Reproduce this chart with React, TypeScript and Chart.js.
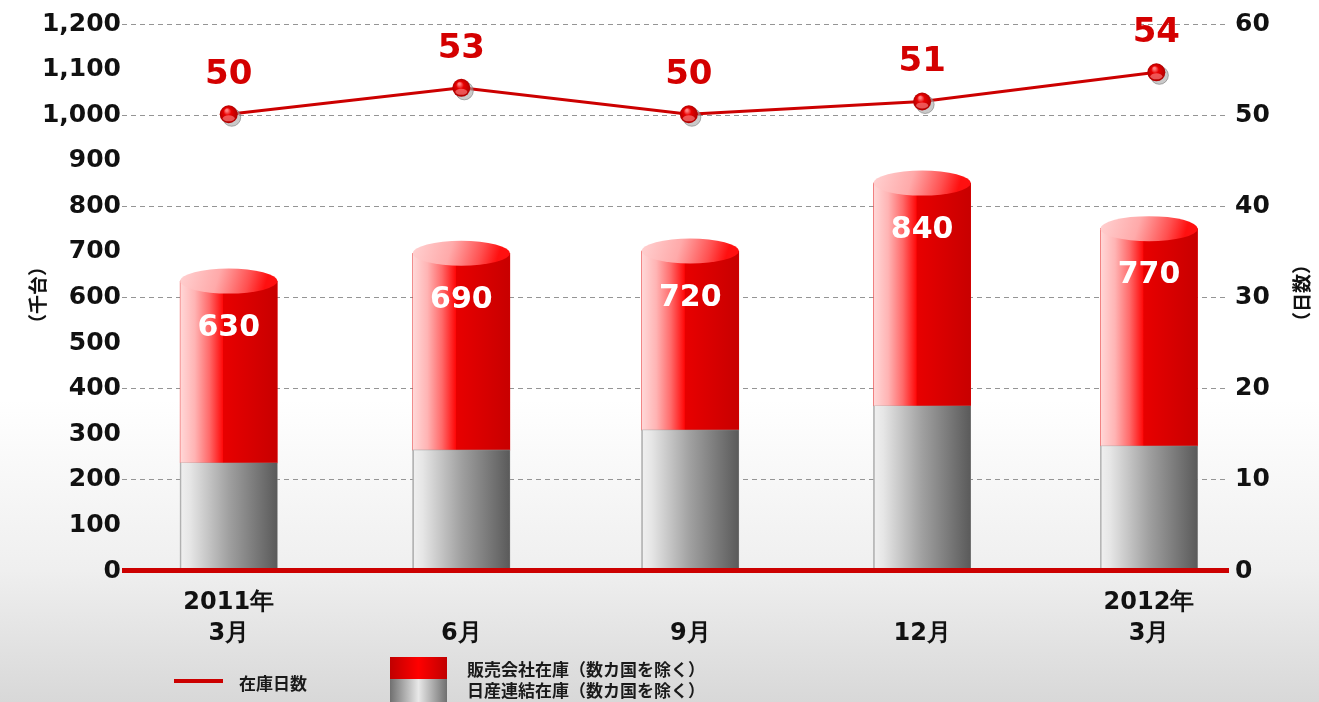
import React, { useEffect, useRef } from 'react';
import { Chart, registerables } from 'chart.js';

Chart.register(...registerables);

// ---- data ----
const categories: string[][] = [['2011年', '3月'], ['', '6月'], ['', '9月'], ['', '12月'], ['2012年', '3月']];
const barPositions = [0, 1.011, 2.006, 3.014, 4.0];
const linePositions = [0, 1.011, 2.0, 3.014, 4.032];
const nissanConsolidated = [237, 265, 309, 362, 274];
const salesCompany = [399, 432, 393, 489, 477];
const totalLabels = ['630', '690', '720', '840', '770'];
const inventoryDays = [50.1, 53, 50.1, 51.5, 54.7];
const dayLabels = ['50', '53', '50', '51', '54'];
const leftTitle = '（千台）';
const rightTitle = '（日数）';
const legendLine = '在庫日数';
const legendSales = '販売会社在庫（数カ国を除く）';
const legendNissan = '日産連結在庫（数カ国を除く）';

const NUM_FONT = '"DejaVu Sans", Verdana, sans-serif';
const JP_FONT = '"Noto Sans CJK JP", "Noto Sans", sans-serif';

function makeBarGradient(ctx: CanvasRenderingContext2D, cx: number, half: number, kind: 'red' | 'gray') {
  const g = ctx.createLinearGradient(cx - half, 0, cx + half, 0);
  if (kind === 'red') {
    g.addColorStop(0, '#ffd8d8');
    g.addColorStop(0.15, '#ffb4b4');
    g.addColorStop(0.3, '#ff6a6a');
    g.addColorStop(0.44, '#ff0a0a');
    g.addColorStop(0.445, '#e80000');
    g.addColorStop(1, '#c80000');
  } else {
    g.addColorStop(0, '#f0f0f0');
    g.addColorStop(0.1, '#e6e6e6');
    g.addColorStop(0.5, '#a0a0a0');
    g.addColorStop(1, '#5a5a5a');
  }
  return g;
}

function paintBars(chart: any, di: number) {
  const ctx: CanvasRenderingContext2D = chart.ctx;
  const meta = chart.getDatasetMeta(di);
  ctx.save();
  meta.data.forEach((el: any) => {
    const { x, y, base, width } = el.getProps(['x', 'y', 'base', 'width'], true);
    if (![x, y, base, width].every((v) => isFinite(v))) return;
    ctx.fillStyle = makeBarGradient(ctx, x, width / 2, di === 1 ? 'red' : 'gray');
    const top = Math.min(y, base);
    ctx.fillRect(x - width / 2, top, width, Math.abs(base - y));
    if (di === 0) {
      ctx.fillStyle = 'rgba(150,150,150,0.8)';
      ctx.fillRect(x - width / 2, top, 1, Math.abs(base - y));
    }
  });
  ctx.restore();
}

function drawSphere(ctx: CanvasRenderingContext2D, x: number, y: number) {
  const r = 9;
  ctx.save();
  ctx.beginPath();
  ctx.arc(x + 3, y + 3, r, 0, Math.PI * 2);
  ctx.fillStyle = 'rgba(165,165,165,0.6)';
  ctx.fill();
  ctx.strokeStyle = 'rgba(120,120,120,0.6)';
  ctx.lineWidth = 1;
  ctx.stroke();
  const g = ctx.createRadialGradient(x - 2, y - 4, 1, x, y, r);
  g.addColorStop(0, '#ff8080');
  g.addColorStop(0.35, '#e80000');
  g.addColorStop(1, '#b00000');
  ctx.beginPath();
  ctx.arc(x, y, r, 0, Math.PI * 2);
  ctx.fillStyle = g;
  ctx.fill();
  ctx.beginPath();
  ctx.ellipse(x, y + 4, 6, 3, 0, 0, Math.PI * 2);
  ctx.fillStyle = 'rgba(255,140,140,0.6)';
  ctx.fill();
  ctx.restore();
}

const decorPlugin = {
  id: 'decor',
  afterDatasetDraw(chart: any, args: any) {
    if (args.index === 1) {
      paintBars(chart, 1);
      return;
    }
    if (args.index !== 0) return;
    paintBars(chart, 0);
    const ctx: CanvasRenderingContext2D = chart.ctx;
    const meta = chart.getDatasetMeta(1);
    ctx.save();
    meta.data.forEach((el: any, i: number) => {
      const { x, y, width } = el.getProps(['x', 'y', 'width'], true);
      const rx = width / 2;
      const ry = 12.5;
      const g = ctx.createLinearGradient(x - rx, y - ry, x + rx * 0.7, y + ry);
      g.addColorStop(0, '#ffd2d2');
      g.addColorStop(0.45, '#ffaaaa');
      g.addColorStop(0.8, '#ff5050');
      g.addColorStop(1, '#ff1010');
      ctx.beginPath();
      ctx.ellipse(x, y, rx, ry, 0, 0, Math.PI * 2);
      ctx.fillStyle = g;
      ctx.fill();
      ctx.font = `bold 30px ${NUM_FONT}`;
      ctx.fillStyle = '#ffffff';
      ctx.textAlign = 'center';
      ctx.textBaseline = 'middle';
      ctx.fillText(totalLabels[i], x, y + 47);
    });
    const y0 = chart.scales.y.getPixelForValue(0);
    const area = chart.chartArea;
    ctx.fillStyle = '#cc0000';
    ctx.fillRect(area.left, y0 - 3, area.right - area.left, 5);
    ctx.restore();
  },
  afterDatasetsDraw(chart: any) {
    const ctx: CanvasRenderingContext2D = chart.ctx;
    const meta = chart.getDatasetMeta(2);
    meta.data.forEach((pt: any, i: number) => {
      const { x, y } = pt.getProps(['x', 'y'], true);
      drawSphere(ctx, x, y);
      ctx.save();
      ctx.font = `bold 34px ${NUM_FONT}`;
      ctx.fillStyle = '#d40000';
      ctx.textAlign = 'center';
      ctx.textBaseline = 'middle';
      ctx.fillText(dayLabels[i], x, y - 39);
      ctx.restore();
    });
  },
  afterDraw(chart: any) {
    const ctx: CanvasRenderingContext2D = chart.ctx;
    const drawTitle = (text: string, x: number, y: number) => {
      ctx.save();
      ctx.translate(x, y);
      ctx.rotate(-Math.PI / 2);
      ctx.font = `bold 19px ${JP_FONT}`;
      ctx.fillStyle = '#111';
      ctx.textAlign = 'center';
      ctx.textBaseline = 'middle';
      ctx.fillText(text, 0, 0);
      ctx.restore();
    };
    drawTitle(leftTitle, 38, 295);
    drawTitle(rightTitle, 1302, 293);
  },
};

export default function App() {
  const ref = useRef<HTMLCanvasElement | null>(null);

  useEffect(() => {
    if (!ref.current) return;
    const chart = new Chart(ref.current, {
      type: 'bar',
      data: {
        datasets: [
          {
            type: 'bar',
            label: legendNissan,
            data: nissanConsolidated.map((v, i) => ({ x: barPositions[i], y: v })),
            backgroundColor: '#999999',
            borderWidth: 0,
            barThickness: 97,
            stack: 'inv',
            yAxisID: 'y',
            order: 1,
          },
          {
            type: 'bar',
            label: legendSales,
            data: salesCompany.map((v, i) => ({ x: barPositions[i], y: v })),
            backgroundColor: '#e00000',
            borderWidth: 0,
            barThickness: 97,
            stack: 'inv',
            yAxisID: 'y',
            order: 2,
          },
          {
            type: 'line',
            label: legendLine,
            data: inventoryDays.map((v, i) => ({ x: linePositions[i], y: v })),
            borderColor: '#cc0000',
            borderWidth: 3,
            pointRadius: 0,
            tension: 0,
            yAxisID: 'y1',
            order: 0,
          } as any,
        ],
      },
      options: {
        animation: false,
        responsive: false,
        devicePixelRatio: 1,
        layout: { padding: { top: 24, left: 0, right: 0, bottom: 0 } },
        plugins: { legend: { display: false }, tooltip: { enabled: false } },
        scales: {
          x: {
            type: 'linear',
            min: -0.4639,
            max: 4.3478,
            offset: false,
            stacked: true,
            grid: { display: false, drawTicks: false, tickLength: 0 },
            border: { display: false },
            afterBuildTicks: (s: any) => {
              s.ticks = barPositions.map((v) => ({ value: v }));
            },
            afterFit: (s: any) => {
              s.height = 131;
            },
            ticks: {
              autoSkip: false,
              maxRotation: 0,
              padding: 16,
              color: '#111',
              font: { family: NUM_FONT, size: 24, weight: 'bold', lineHeight: 1.3 },
              callback: (_v: any, i: number) => categories[i],
            },
          },
          y: {
            position: 'left',
            stacked: true,
            min: 0,
            max: 1200,
            grid: { display: false, drawTicks: false, tickLength: 0 },
            border: { display: false },
            afterFit: (s: any) => {
              s.width = 122;
            },
            ticks: {
              stepSize: 100,
              padding: 1,
              color: '#111',
              font: { family: NUM_FONT, size: 25, weight: 'bold' },
              callback: (v: any) => Number(v).toLocaleString('en-US'),
            },
          },
          y1: {
            position: 'right',
            min: 0,
            max: 60,
            grid: { display: true, color: '#959595', lineWidth: 1, drawTicks: false, tickLength: 0 },
            border: { display: false, dash: [5, 4] },
            afterFit: (s: any) => {
              s.width = 90;
            },
            ticks: {
              stepSize: 10,
              padding: 6,
              color: '#111',
              font: { family: NUM_FONT, size: 25, weight: 'bold' },
            },
          },
        },
      } as any,
      plugins: [decorPlugin],
    });
    return () => chart.destroy();
  }, []);

  const textStyle: React.CSSProperties = {
    position: 'absolute',
    fontFamily: JP_FONT,
    fontWeight: 'bold',
    fontSize: 17,
    color: '#1a1a1a',
    whiteSpace: 'nowrap',
    lineHeight: '20px',
  };

  return (
    <div
      style={{
        position: 'absolute',
        left: 0,
        top: 0,
        width: 1319,
        height: 702,
        overflow: 'hidden',
        background: 'linear-gradient(to bottom, #ffffff 0px, #ffffff 400px, #efefef 570px, #d8d8d8 702px)',
      }}
    >
      <canvas ref={ref} width={1319} height={702} style={{ display: 'block', position: 'absolute', left: 0, top: 0 }} />
      <div style={{ position: 'absolute', left: 174, top: 679, width: 49, height: 4, background: '#cc0000' }} />
      <div style={{ ...textStyle, left: 239, top: 673 }}>{legendLine}</div>
      <div
        style={{
          position: 'absolute',
          left: 390,
          top: 657,
          width: 57,
          height: 22,
          background: 'linear-gradient(to right, #c00000 0%, #ff0000 50%, #c00000 100%)',
        }}
      />
      <div
        style={{
          position: 'absolute',
          left: 390,
          top: 679,
          width: 57,
          height: 23,
          background: 'linear-gradient(to right, #707070 0%, #e8e8e8 50%, #707070 100%)',
        }}
      />
      <div style={{ ...textStyle, left: 467, top: 659 }}>{legendSales}</div>
      <div style={{ ...textStyle, left: 467, top: 680 }}>{legendNissan}</div>
    </div>
  );
}
